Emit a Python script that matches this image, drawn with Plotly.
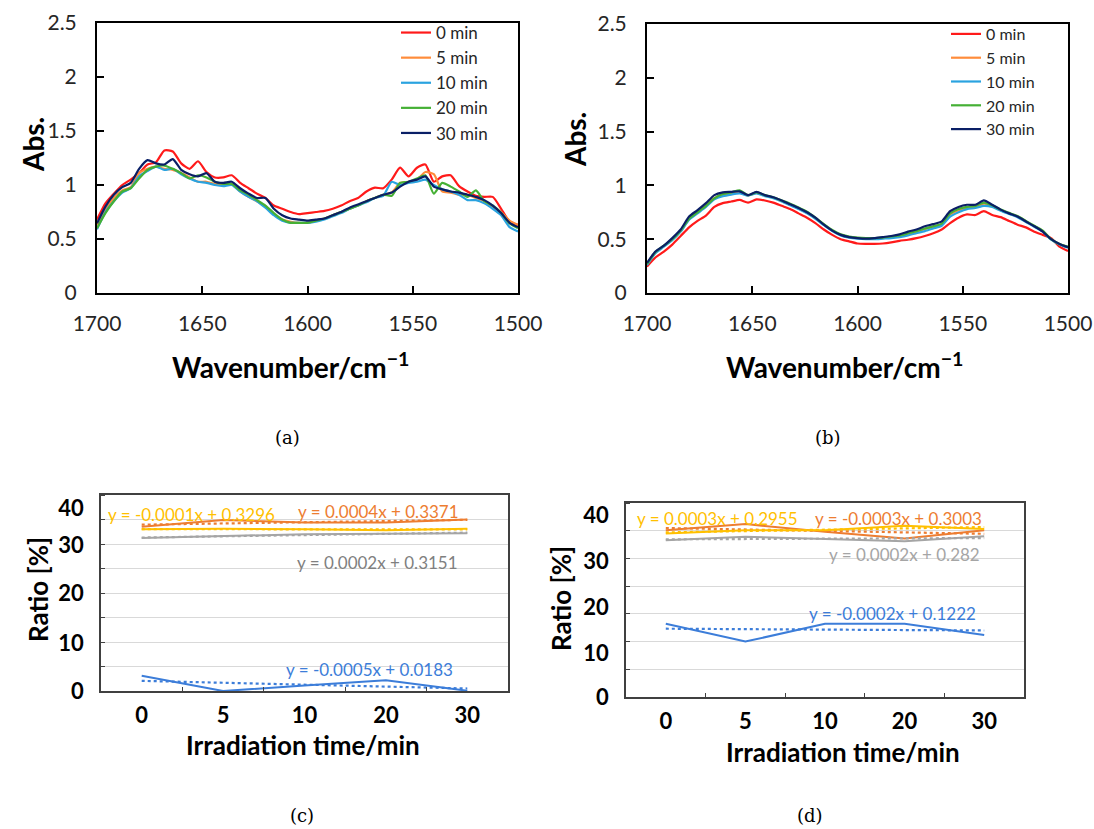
import numpy as np
import plotly.graph_objects as go

W, H = 1094, 829

# ---------------- data ----------------
wavenumber = list(range(1700, 1499, -4))  # 51 points, 1700 -> 1500

labels = ["0 min", "5 min", "10 min", "20 min", "30 min"]
colors = ["#ff1a1a", "#ff8c3a", "#2aa3e0", "#45b035", "#0a1f66"]

# (a) absorbance
a_0 = [0.68, 0.83, 0.92, 1.00, 1.05, 1.11, 1.19, 1.21, 1.32, 1.31, 1.20, 1.15, 1.22, 1.12, 1.07, 1.07, 1.09,
       1.02, 0.97, 0.92, 0.88, 0.81, 0.78, 0.75, 0.73, 0.74,
       0.75, 0.76, 0.78, 0.81, 0.85, 0.88, 0.94, 0.975, 0.97, 1.05, 1.16, 1.08, 1.16, 1.19, 1.03, 1.08, 1.09,
       0.99, 0.94, 0.90, 0.89, 0.89, 0.78, 0.66, 0.63]
a_5 = [0.63, 0.77, 0.88, 0.95, 0.98, 1.11, 1.15, 1.17, 1.15, 1.14, 1.11, 1.07, 1.03, 1.03, 1.01, 1.00, 1.01,
       0.94, 0.89, 0.85, 0.80, 0.73, 0.68, 0.66, 0.65, 0.65,
       0.67, 0.69, 0.72, 0.75, 0.78, 0.81, 0.85, 0.88, 0.91, 0.93, 1.02, 1.03, 1.05, 1.12, 1.10, 0.94, 0.93,
       0.91, 0.91, 0.88, 0.85, 0.80, 0.75, 0.67, 0.63]
a_10 = [0.59, 0.75, 0.85, 0.93, 0.97, 1.08, 1.13, 1.17, 1.14, 1.15, 1.10, 1.06, 1.03, 1.02, 1.00, 0.99, 1.00,
        0.94, 0.89, 0.85, 0.79, 0.72, 0.67, 0.65, 0.65, 0.65,
        0.66, 0.68, 0.71, 0.74, 0.78, 0.81, 0.84, 0.88, 0.90, 1.03, 1.00, 1.02, 1.03, 1.05, 1.00, 0.96, 0.94,
        0.91, 0.86, 0.86, 0.83, 0.78, 0.72, 0.61, 0.57]
a_20 = [0.60, 0.74, 0.85, 0.94, 0.97, 1.06, 1.14, 1.17, 1.18, 1.15, 1.11, 1.06, 1.09, 1.07, 1.03, 1.01, 1.01,
        0.95, 0.91, 0.86, 0.81, 0.74, 0.68, 0.65, 0.65, 0.65,
        0.67, 0.69, 0.72, 0.75, 0.78, 0.81, 0.85, 0.88, 0.91, 0.90, 1.02, 1.03, 1.06, 1.09, 0.92, 1.02, 0.985,
        0.94, 0.89, 0.95, 0.85, 0.81, 0.74, 0.645, 0.60]
a_30 = [0.645, 0.80, 0.91, 0.98, 1.02, 1.15, 1.23, 1.20, 1.19, 1.24, 1.14, 1.10, 1.08, 1.11, 1.03, 1.02, 1.03,
        0.97, 0.92, 0.88, 0.88, 0.78, 0.72, 0.69, 0.68, 0.67,
        0.68, 0.69, 0.72, 0.75, 0.79, 0.82, 0.85, 0.88, 0.91, 0.93, 0.985, 1.03, 1.05, 1.08, 0.985, 0.96, 0.94,
        0.93, 0.91, 0.89, 0.86, 0.81, 0.74, 0.65, 0.61]

# (b) absorbance
b_0 = [0.245, 0.33, 0.385, 0.45, 0.53, 0.61, 0.67, 0.72, 0.80, 0.835, 0.85, 0.865, 0.84, 0.87, 0.86, 0.84, 0.81,
       0.78, 0.74, 0.70, 0.65, 0.59, 0.54, 0.50, 0.48, 0.46, 0.457, 0.457, 0.46, 0.47, 0.485, 0.495, 0.51, 0.53,
       0.555, 0.59, 0.65, 0.70, 0.73, 0.725, 0.76, 0.725, 0.705, 0.67, 0.635, 0.61, 0.57, 0.54, 0.51, 0.43, 0.39]
b_5 = [0.27, 0.375, 0.435, 0.50, 0.575, 0.69, 0.75, 0.81, 0.88, 0.91, 0.925, 0.935, 0.905, 0.93, 0.905, 0.885,
       0.855, 0.82, 0.785, 0.745, 0.695, 0.635, 0.58, 0.54, 0.52, 0.51, 0.505, 0.505, 0.51, 0.52, 0.53, 0.55,
       0.57, 0.595, 0.615, 0.64, 0.73, 0.77, 0.79, 0.80, 0.83, 0.81, 0.77, 0.74, 0.71, 0.665, 0.62, 0.575, 0.50,
       0.452, 0.425]
b_10 = [0.26, 0.37, 0.43, 0.49, 0.57, 0.68, 0.74, 0.80, 0.87, 0.90, 0.915, 0.925, 0.905, 0.925, 0.90, 0.88, 0.85,
        0.815, 0.78, 0.74, 0.69, 0.63, 0.575, 0.535, 0.515, 0.505, 0.50, 0.50, 0.505, 0.51, 0.52, 0.535, 0.555,
        0.575, 0.60, 0.625, 0.71, 0.75, 0.78, 0.79, 0.81, 0.80, 0.765, 0.735, 0.705, 0.66, 0.615, 0.57, 0.495,
        0.45, 0.42]
b_20 = [0.27, 0.38, 0.44, 0.50, 0.58, 0.69, 0.75, 0.81, 0.88, 0.92, 0.935, 0.955, 0.91, 0.935, 0.91, 0.89, 0.86,
        0.83, 0.795, 0.755, 0.70, 0.64, 0.585, 0.545, 0.525, 0.515, 0.51, 0.51, 0.515, 0.525, 0.535, 0.555, 0.575,
        0.60, 0.62, 0.645, 0.74, 0.78, 0.80, 0.81, 0.84, 0.815, 0.775, 0.745, 0.715, 0.67, 0.625, 0.58, 0.50,
        0.455, 0.43]
b_30 = [0.28, 0.385, 0.44, 0.51, 0.59, 0.71, 0.77, 0.835, 0.91, 0.935, 0.94, 0.945, 0.91, 0.94, 0.91, 0.89, 0.86,
        0.825, 0.79, 0.75, 0.70, 0.635, 0.58, 0.54, 0.52, 0.51, 0.505, 0.51, 0.52, 0.53, 0.545, 0.57, 0.59, 0.62,
        0.64, 0.665, 0.76, 0.80, 0.82, 0.82, 0.86, 0.82, 0.775, 0.74, 0.71, 0.665, 0.62, 0.57, 0.50, 0.455, 0.425]

# (c), (d) ratios [%]
time_cats = ["0", "5", "10", "20", "30"]
ratio_colors = ["#ed7d31", "#ffc000", "#a5a5a5", "#3c7dd9"]
c_orange = [33.5, 34.9, 34.4, 34.4, 35.0]
c_yellow = [33.0, 33.1, 33.0, 32.8, 33.1]
c_gray = [31.2, 31.6, 32.0, 32.1, 32.2]
c_blue = [3.1, 0.0, 1.1, 2.2, 0.05]
d_orange = [30.1, 31.2, 29.8, 28.6, 30.1]
d_yellow = [29.5, 30.1, 30.1, 30.9, 30.3]
d_gray = [28.3, 28.9, 28.5, 28.1, 29.0]
d_blue = [13.2, 10.0, 13.2, 13.2, 11.2]

c_equations = ["y = 0.0004x + 0.3371", "y = -0.0001x + 0.3296", "y = 0.0002x + 0.3151", "y = -0.0005x + 0.0183"]
d_equations = ["y = -0.0003x + 0.3003", "y = 0.0003x + 0.2955", "y = 0.0002x + 0.282", "y = -0.0002x + 0.1222"]

c_ylabels = ["0", "10", "20", "30", "40"]
c_ylabel_pos = [0, 9.8, 19.9, 29.7, 37.3]
d_ylabels = ["0", "10", "20", "30", "40"]
d_ylabel_pos = [0, 7.9, 16.1, 24.4, 32.8]

# ---------------- figure ----------------
def X(px):
    return px / W


def Y(py):
    return 1 - py / H


FONT = "Lato, Open Sans, sans-serif"
fig = go.Figure()

for name, col, ya in zip(labels, colors, [a_0, a_5, a_10, a_20, a_30]):
    fig.add_trace(go.Scatter(x=wavenumber, y=ya, mode="lines", name=name,
                             line=dict(color=col, width=2.2, shape="spline", smoothing=0.6),
                             xaxis="x", yaxis="y", legend="legend"))
for name, col, yb in zip(labels, colors, [b_0, b_5, b_10, b_20, b_30]):
    fig.add_trace(go.Scatter(x=wavenumber, y=yb, mode="lines", name=name,
                             line=dict(color=col, width=2.2, shape="spline", smoothing=0.6),
                             xaxis="x2", yaxis="y2", legend="legend2"))

idx = np.arange(len(time_cats))
for series_set, xa, ya in [([c_orange, c_yellow, c_gray, c_blue], "x3", "y3"),
                           ([d_orange, d_yellow, d_gray, d_blue], "x4", "y4")]:
    for vals, col in zip(series_set, ratio_colors):
        k, b = np.polyfit(idx, vals, 1)
        trend = k * idx + b
        fig.add_trace(go.Scatter(x=time_cats, y=trend, mode="lines", showlegend=False,
                                 line=dict(color=col, width=2.2, dash="dot"), xaxis=xa, yaxis=ya))
        fig.add_trace(go.Scatter(x=time_cats, y=vals, mode="lines", showlegend=False,
                                 line=dict(color=col, width=2), xaxis=xa, yaxis=ya))

tickfont_ab = dict(family=FONT, size=21, color="#262626")
spec_x = dict(range=[1700, 1500], tickvals=[1700, 1650, 1600, 1550, 1500], ticks="inside", ticklen=7,
              tickwidth=1.5, tickcolor="black", showline=True, linecolor="black", linewidth=2, mirror=True,
              showgrid=False, zeroline=False, tickfont=tickfont_ab, ticklabelstandoff=11, automargin=False)
spec_y = dict(range=[0, 2.5], tickvals=[0, 0.5, 1, 1.5, 2, 2.5], ticktext=["0", "0.5", "1", "1.5", "2", "2.5"],
              ticks="inside", ticklen=7, tickwidth=1.5, tickcolor="black", showline=True, linecolor="black",
              linewidth=2, mirror=True, showgrid=False, zeroline=False, tickfont=tickfont_ab,
              ticklabelstandoff=14, automargin=False)

tickfont_cd = dict(family=FONT, size=22, color="black", weight="bold")
ratio_x = dict(type="category", categoryorder="array", categoryarray=time_cats, range=[-0.5, 4.5],
               tickson="boundaries", ticks="inside", ticklen=4, tickcolor="#404040", showline=True,
               linecolor="#404040", linewidth=1.5, mirror=True, showgrid=False, zeroline=False,
               tickfont=tickfont_cd, ticklabelstandoff=4, automargin=False)


def ratio_y(rng, pos, txt):
    return dict(range=rng, tickmode="array", tickvals=pos, ticktext=txt, ticks="", showline=True,
                linecolor="#404040", linewidth=1.5, mirror=True, showgrid=False, zeroline=False,
                tickfont=tickfont_cd, ticklabelstandoff=11, automargin=False,
                minor=dict(tickmode="linear", tick0=0, dtick=5, showgrid=True, gridcolor="#d9d9d9",
                           gridwidth=1.2, ticks="inside", ticklen=4, tickcolor="#404040"))


fig.update_layout(
    width=W, height=H, margin=dict(l=0, r=0, t=0, b=0, pad=0, autoexpand=False),
    paper_bgcolor="white", plot_bgcolor="white",
    xaxis=dict(domain=[X(97), X(518)], anchor="y", **spec_x),
    yaxis=dict(domain=[Y(293), Y(23)], anchor="x", **spec_y),
    xaxis2=dict(domain=[X(647), X(1068)], anchor="y2", **spec_x),
    yaxis2=dict(domain=[Y(293), Y(24)], anchor="x2", **spec_y),
    xaxis3=dict(domain=[X(101), X(508)], anchor="y3", **ratio_x),
    yaxis3=dict(domain=[Y(691), Y(495)], anchor="x3", **ratio_y([0, 40], c_ylabel_pos, c_ylabels)),
    xaxis4=dict(domain=[X(626), X(1024)], anchor="y4", **ratio_x),
    yaxis4=dict(domain=[Y(697), Y(503)], anchor="x4", **ratio_y([0, 35], d_ylabel_pos, d_ylabels)),
    legend=dict(x=X(396), y=Y(15), xanchor="left", yanchor="top", bgcolor="rgba(0,0,0,0)",
                font=dict(family=FONT, size=17, color="#262626"),
                itemwidth=30, tracegroupgap=0),
    legend2=dict(x=X(946), y=Y(17), xanchor="left", yanchor="top", bgcolor="rgba(0,0,0,0)",
                 font=dict(family=FONT, size=16, color="#262626"),
                 itemwidth=30, tracegroupgap=0),
    showlegend=True,
)

ann = []
bold_title = dict(family=FONT, size=28, color="black", weight="bold")
# axis titles (a),(b)
ann.append(dict(text="Abs.", x=X(33), y=Y(145), textangle=-90, font=bold_title))
ann.append(dict(text="Abs.", x=X(575), y=Y(140), textangle=-90, font=bold_title))
ann.append(dict(text="Wavenumber/cm<sup>−1</sup>", x=X(291), y=Y(365), font=bold_title))
ann.append(dict(text="Wavenumber/cm<sup>−1</sup>", x=X(844), y=Y(365), font=bold_title))
# axis titles (c),(d)
bold_title2 = dict(family=FONT, size=26, color="black", weight="bold")
ann.append(dict(text="Ratio [%]", x=X(38), y=Y(590), textangle=-90, font=bold_title2))
ann.append(dict(text="Ratio [%]", x=X(561), y=Y(599), textangle=-90, font=bold_title2))
ann.append(dict(text="Irradiation time/min", x=X(303), y=Y(745), font=bold_title2))
ann.append(dict(text="Irradiation time/min", x=X(843), y=Y(752), font=bold_title2))
# captions
cap = dict(family="DejaVu Serif, Liberation Serif, serif", size=18, color="black")
for t, cx, cy in [("(a)", 287, 437), ("(b)", 828, 437), ("(c)", 302, 815), ("(d)", 810, 815)]:
    ann.append(dict(text=t, x=X(cx), y=Y(cy), font=cap))

# trendline equations
c_eq_pos = [(296, 512), (106, 514), (295, 562), (284, 669)]
d_eq_pos = [(813, 518), (635, 518), (827, 554), (807, 613)]
c_eq_cols = ["#ed7d31", "#ffc000", "#7f7f7f", "#3c7dd9"]
d_eq_cols = ["#ed7d31", "#ffc000", "#a5a5a5", "#3c7dd9"]
for txt, (ex, ey), col in zip(c_equations, c_eq_pos, c_eq_cols):
    ann.append(dict(text=txt, x=X(ex), y=Y(ey), xanchor="left", font=dict(family=FONT, size=17, color=col)))
for txt, (ex, ey), col in zip(d_equations, d_eq_pos, d_eq_cols):
    ann.append(dict(text=txt, x=X(ex), y=Y(ey), xanchor="left", font=dict(family=FONT, size=17, color=col)))

for a in ann:
    a.update(xref="paper", yref="paper", showarrow=False)
    a.setdefault("xanchor", "center")
    a.setdefault("yanchor", "middle")
fig.update_layout(annotations=ann)

fig.write_html("out.html")
